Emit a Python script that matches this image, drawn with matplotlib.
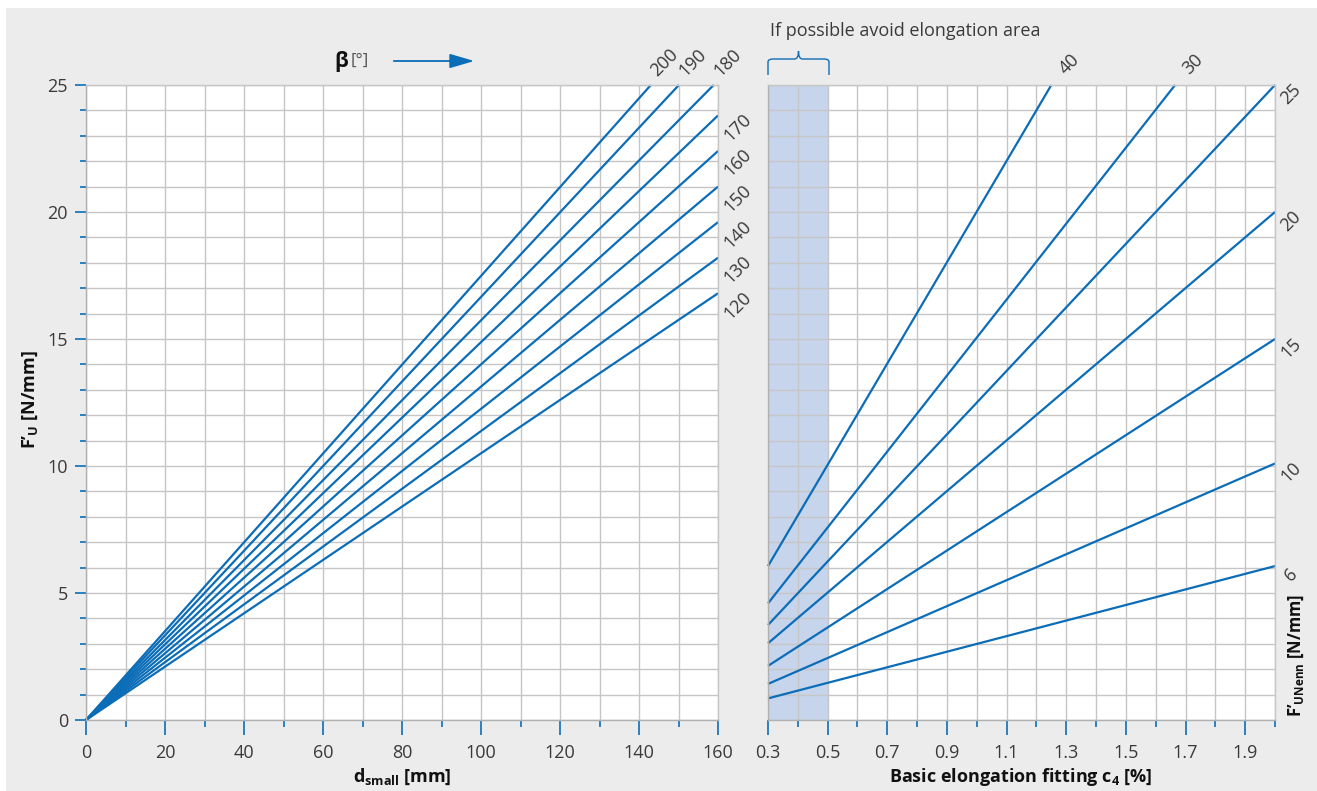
import matplotlib
matplotlib.use("Agg")
import matplotlib.pyplot as plt
from matplotlib.patches import Rectangle, FancyArrowPatch, PathPatch
from matplotlib.path import Path
from matplotlib.transforms import IdentityTransform
from matplotlib.ticker import MultipleLocator, FixedLocator

# ---------------- data ----------------
beta_deg = [120, 130, 140, 150, 160, 170, 180, 190, 200]
d_end = [160, 160, 160, 160, 160, 160, 158.9, 150.1, 143.0]
fu_end = [16.8, 18.2, 19.6, 21.0, 22.4, 23.8, 25.0, 25.0, 25.0]

funenn = [6, 10, 15, 20, 25, 30, 40]
c4_start = [0.3, 0.3, 0.3, 0.3, 0.3, 0.3, 0.3]
fu_start = [0.85, 1.42, 2.13, 3.02, 3.74, 4.59, 6.06]
c4_end = [2.0, 2.0, 2.0, 2.0, 2.0, 1.665, 1.25]
fu_end_r = [6.06, 10.1, 15.0, 20.0, 25.0, 25.0, 25.0]

left_xticks = [0, 20, 40, 60, 80, 100, 120, 140, 160]
left_yticks = [0, 5, 10, 15, 20, 25]
right_xticks = [0.3, 0.5, 0.7, 0.9, 1.1, 1.3, 1.5, 1.7, 1.9]
avoid_lo, avoid_hi = 0.3, 0.5

# ---------------- style ----------------
W, H = 1317, 791
BLUE = "#0b6db8"
GRID = "#c6c6c6"
SPINE = "#b0b0b0"
TXT = "#3a3a3a"
BG = "#ececec"
SHADE = "#c6d5ec"

plt.rcParams["font.family"] = ["Open Sans", "DejaVu Sans"]
plt.rcParams["mathtext.fontset"] = "custom"
plt.rcParams["mathtext.rm"] = "Open Sans"
plt.rcParams["mathtext.bf"] = "Open Sans:bold"
plt.rcParams["mathtext.it"] = "Open Sans:italic"

fig = plt.figure(figsize=(W / 100, H / 100), dpi=100)
fig.patch.set_facecolor("white")
fig.add_artist(Rectangle((6 / W, 0), 1 - 6 / W, 1 - 8 / H, transform=fig.transFigure,
                         facecolor=BG, edgecolor="none", zorder=-10))


def fx(x):
    return x / W


def fy(y):
    return 1 - y / H


axL = fig.add_axes([fx(86), fy(720), fx(718) - fx(86), fy(85) - fy(720)])
axR = fig.add_axes([fx(768), fy(720), fx(1275) - fx(768), fy(85) - fy(720)])

for ax in (axL, axR):
    ax.set_facecolor("white")
    ax.set_ylim(0, 25)
    for s in ax.spines.values():
        s.set_color(GRID)
        s.set_linewidth(1.0)
    ax.spines["left"].set_color(SPINE)
    ax.spines["bottom"].set_color(SPINE)
    ax.tick_params(which="both", direction="out", color=BLUE, width=1.2,
                   labelcolor=TXT, labelsize=13)
    ax.tick_params(which="major", length=8, pad=5)
    ax.tick_params(which="minor", length=4)
    ax.tick_params(axis="x", which="major", length=11, pad=6)
    ax.tick_params(axis="x", which="minor", length=5)
    ax.grid(True, which="both", color=GRID, linewidth=1.0)

# left axes
axL.set_xlim(0, 160)
axL.xaxis.set_major_locator(FixedLocator(left_xticks))
axL.xaxis.set_minor_locator(MultipleLocator(10))
axL.yaxis.set_major_locator(FixedLocator(left_yticks))
axL.yaxis.set_minor_locator(MultipleLocator(1))

for b, de, fe in zip(beta_deg, d_end, fu_end):
    axL.plot([0, de], [0, fe], color=BLUE, lw=1.6, solid_capstyle="butt", clip_on=False)
    if fe >= 25:
        off = (14, 22)
    else:
        off = (20, -12)
    axL.annotate(str(b), xy=(de, fe), xytext=off, textcoords="offset pixels",
                 rotation=45, rotation_mode="anchor", ha="center", va="center",
                 fontsize=13, color=TXT, annotation_clip=False)

# right axes
axR.set_xlim(0.3, 2.0)
axR.xaxis.set_major_locator(FixedLocator(right_xticks))
axR.xaxis.set_minor_locator(MultipleLocator(0.1))
axR.yaxis.set_major_locator(MultipleLocator(1))
axR.tick_params(axis="y", which="both", left=False, labelleft=False)
axR.set_xticklabels([f"{v:.1f}" for v in right_xticks])
axR.axvspan(avoid_lo, avoid_hi, color=SHADE, zorder=1, lw=0)

for n, x0, y0, x1, y1 in zip(funenn, c4_start, fu_start, c4_end, fu_end_r):
    axR.plot([x0, x1], [y0, y1], color=BLUE, lw=1.6, solid_capstyle="butt", clip_on=False)
    if x1 < 2.0:
        off = (18, 21)
    else:
        off = (16, -9)
    axR.annotate(str(n), xy=(x1, y1), xytext=off, textcoords="offset pixels",
                 rotation=45, rotation_mode="anchor", ha="center", va="center",
                 fontsize=13, color=TXT, annotation_clip=False)

# axis labels
fig.text(fx(30), fy(400), r"$\mathbf{F’_{U}}$ [N/mm]", rotation=90, ha="center", va="center",
         fontsize=13, fontweight="bold", color="#111111")
fig.text(fx(402), fy(777), r"$\mathbf{d_{small}}$ [mm]", ha="center", va="center",
         fontsize=13, fontweight="bold", color="#111111")
fig.text(fx(1021), fy(777), r"Basic elongation fitting $\mathbf{c_4}$ [%]", ha="center",
         va="center", fontsize=13, fontweight="bold", color="#111111")
fig.text(fx(1296), fy(655), r"$\mathbf{F’_{UNenn}}$ [N/mm]", rotation=90, ha="center",
         va="center", fontsize=12, fontweight="bold", color="#111111")

# beta header with arrow
fig.text(fx(348), fy(62), "β", ha="right", va="center", fontsize=15,
         fontweight="bold", color="#111111")
fig.text(fx(351), fy(61), "[°]", ha="left", va="center", fontsize=12, color="#555555")
fig.add_artist(FancyArrowPatch((fx(391), fy(61)), (fx(477), fy(61)), transform=fig.transFigure,
                               arrowstyle="-|>,head_length=0.75,head_width=0.22",
                               mutation_scale=20, color=BLUE, lw=1.3))

# avoid area note + brace
fig.text(fx(770), fy(31), "If possible avoid elongation area", ha="left", va="center",
         fontsize=13, color=TXT)
xl, xr, xm = 768, 829, 798.5
yb, yh, yt = 75, 59, 51
verts = [(xl, yb), (xl, yh + 3), (xl, yh), (xl + 5, yh),
         (xm - 4, yh), (xm, yh), (xm, yt),
         (xm, yh), (xm + 4, yh),
         (xr - 5, yh), (xr, yh), (xr, yh + 3), (xr, yb)]
codes = [Path.MOVETO, Path.LINETO, Path.CURVE3, Path.CURVE3,
         Path.LINETO, Path.CURVE3, Path.CURVE3,
         Path.CURVE3, Path.CURVE3,
         Path.LINETO, Path.CURVE3, Path.CURVE3, Path.LINETO]
verts_px = [(x, H - y) for x, y in verts]
fig.add_artist(PathPatch(Path(verts_px, codes), transform=IdentityTransform(),
                         facecolor="none", edgecolor=BLUE, lw=1.0))

fig.savefig("out.png", dpi=100, facecolor=fig.get_facecolor())
